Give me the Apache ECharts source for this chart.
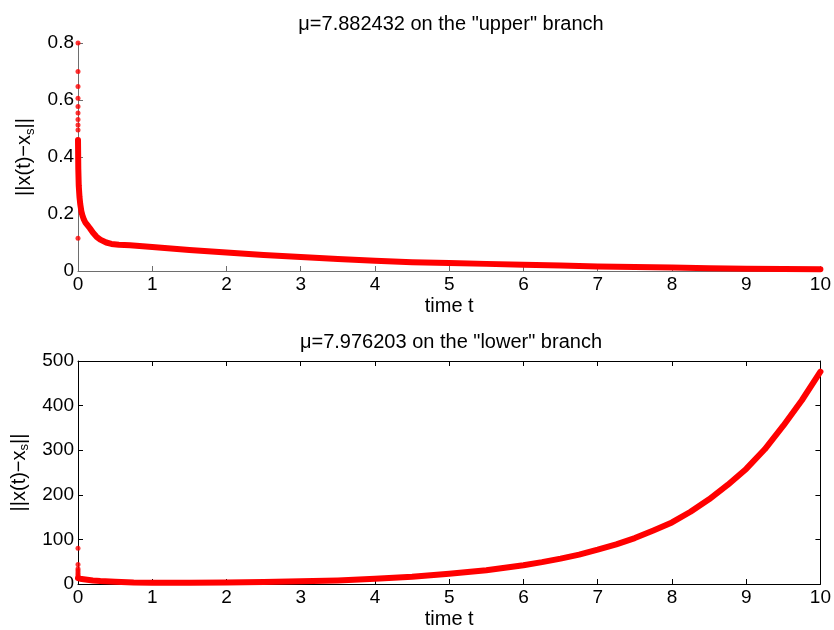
<!DOCTYPE html>
<html>
<head>
<meta charset="utf-8">
<script src="https://cdn.jsdelivr.net/npm/echarts@6/dist/echarts.min.js"></script>
<style>
  html, body { margin: 0; padding: 0; background: #fff; }
  #chart { width: 834px; height: 630px; }
</style>
</head>
<body>
<div id="chart"></div>
<script>
// upper branch: dense band (t, value)
const topT = [0, 0.004, 0.01, 0.02, 0.03, 0.045, 0.06, 0.08, 0.1, 0.13, 0.16, 0.2, 0.25, 0.3, 0.38, 0.45, 0.55, 0.7, 1, 1.5, 2, 2.5, 3, 3.5, 4, 4.5, 5, 5.5, 6, 6.5, 7, 7.5, 8, 8.5, 9, 9.5, 10];
const topV = [0.46, 0.36, 0.30, 0.26, 0.235, 0.21, 0.195, 0.18, 0.17, 0.16, 0.15, 0.135, 0.12, 0.11, 0.1, 0.095, 0.092, 0.09, 0.084, 0.074, 0.065, 0.056, 0.049, 0.042, 0.036, 0.031, 0.028, 0.025, 0.022, 0.019, 0.016, 0.014, 0.012, 0.010, 0.008, 0.007, 0.006];
// isolated points at t = 0
const topDots = [0.8, 0.7, 0.647, 0.606, 0.577, 0.554, 0.532, 0.512, 0.495, 0.115];

// lower branch
const botT = [0, 0.02, 0.05, 0.1, 0.2, 0.3, 0.5, 0.75, 1, 1.5, 2, 2.5, 3, 3.5, 4, 4.5, 5, 5.5, 6, 6.25, 6.5, 6.75, 7, 7.25, 7.5, 7.75, 8, 8.25, 8.5, 8.75, 9, 9.25, 9.5, 9.75, 10];
const botV = [13, 12, 11, 10, 8, 6.5, 5, 3.5, 3, 3, 3.5, 4.5, 6, 8, 11.5, 16, 23, 31, 42, 49, 57, 66, 77, 89, 103, 120, 138, 162, 190, 222, 258, 302, 355, 412, 476];
const botDots = [80, 44, 34, 30, 26, 22, 18, 15];

const topTitle = 'μ=7.882432 on the "upper" branch';
const botTitle = 'μ=7.976203 on the "lower" branch';

const red = '#ff0000';
const font = 'Liberation Sans, Arial, sans-serif';
const pair = (xs, ys) => xs.map((x, i) => [x, ys[i]]);
const atZero = ys => ys.map(y => [0, y]);

const chart = echarts.init(document.getElementById('chart'));

const yName = {
  fontFamily: font, fontSize: 20, color: '#000',
  rich: {
    a: { fontFamily: font, fontSize: 20, color: '#000' },
    s: { fontFamily: font, fontSize: 13, color: '#000', padding: [11, 0, 0, 0] }
  }
};
const labelStyle = { fontFamily: font, fontSize: 19, color: '#000' };
const nameStyle = { fontFamily: font, fontSize: 20, color: '#000' };

function tickAxis(col) {
  return {
    axisLine: { show: true, onZero: false, lineStyle: { color: col, width: 1 } },
    axisTick: { show: true, inside: true, length: 5, lineStyle: { color: col } },
    splitLine: { show: false }
  };
}

chart.setOption({
  animation: false,
  title: [
    { text: topTitle, left: 446, top: 9, textAlign: 'center',
      textStyle: { fontFamily: font, fontSize: 20, fontWeight: 'normal', color: '#000' } },
    { text: botTitle, left: 446, top: 327, textAlign: 'center',
      textStyle: { fontFamily: font, fontSize: 20, fontWeight: 'normal', color: '#000' } }
  ],
  grid: [
    { left: 78, top: 43, width: 744, height: 228 },
    { left: 78, top: 361, width: 744, height: 228 }
  ],
  xAxis: [
    { type: 'value', gridIndex: 0, min: 0, max: 10, interval: 1, position: 'bottom',
      name: 'time t', nameLocation: 'middle', nameGap: 25, nameTextStyle: nameStyle,
      axisLabel: { margin: 4, ...labelStyle }, ...tickAxis('#6e6e6e') },
    { type: 'value', gridIndex: 1, min: 0, max: 10, interval: 1, position: 'bottom',
      name: 'time t', nameLocation: 'middle', nameGap: 25, nameTextStyle: nameStyle,
      axisLabel: { margin: 4, ...labelStyle }, ...tickAxis('#000') },
    { type: 'value', gridIndex: 1, min: 0, max: 10, interval: 1, position: 'top',
      axisLabel: { show: false }, ...tickAxis('#000') }
  ],
  yAxis: [
    { type: 'value', gridIndex: 0, min: 0, max: 0.8, interval: 0.2, position: 'left',
      name: '{a|||x(t)−x}{s|s}{a|||}', nameLocation: 'middle', nameGap: 36,
      nameTextStyle: yName,
      axisLabel: { margin: 4, ...labelStyle }, ...tickAxis('#6e6e6e') },
    { type: 'value', gridIndex: 1, min: 0, max: 500, interval: 100, position: 'left',
      name: '{a|||x(t)−x}{s|s}{a|||}', nameLocation: 'middle', nameGap: 46,
      nameTextStyle: yName,
      axisLabel: { margin: 4, ...labelStyle }, ...tickAxis('#000') },
    { type: 'value', gridIndex: 1, min: 0, max: 500, interval: 100, position: 'right',
      axisLabel: { show: false }, ...tickAxis('#000') }
  ],
  series: [
    { type: 'line', xAxisIndex: 0, yAxisIndex: 0, data: pair(topT, topV),
      showSymbol: false,
      lineStyle: { color: red, width: 6, cap: 'round', join: 'round' } },
    { type: 'scatter', xAxisIndex: 0, yAxisIndex: 0, data: atZero(topDots),
      symbolSize: 5, itemStyle: { color: red } },
    { type: 'line', xAxisIndex: 1, yAxisIndex: 1, data: pair(botT, botV),
      showSymbol: false,
      lineStyle: { color: red, width: 6, cap: 'round', join: 'round' } },
    { type: 'scatter', xAxisIndex: 1, yAxisIndex: 1, data: atZero(botDots),
      symbolSize: 5, itemStyle: { color: red } }
  ]
});
</script>
</body>
</html>
